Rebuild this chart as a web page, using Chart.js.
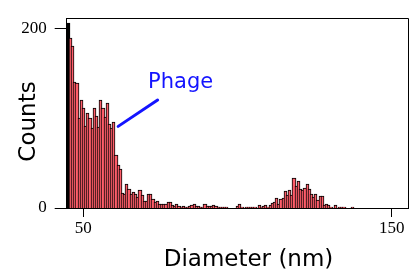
<!DOCTYPE html>
<html>
<head>
<meta charset="utf-8">
<script src="https://cdn.jsdelivr.net/npm/chart.js@4.4.0/dist/chart.umd.min.js"></script>
<style>
  html, body { margin: 0; padding: 0; background: #fff; }
  canvas { display: block; }
</style>
</head>
<body>
<canvas id="c" width="417" height="278"></canvas>
<script>
// ---- Data ----
const binStart = 44.62;      // nm, left edge of first bin
const binWidth = 0.704;      // nm per bin
const counts = [
  206,190,181,140,139,100,120,112,91,106,100,89,112,103,90,120,111,101,117,94,89,96,
  59,48,44,17,16,27,21,16,18,16,12,20,14,8,8,16,16,10,7,8,4,4,5,5,7,7,3,2,5,2,1,2,1,1,2,3,4,2,2,1,1,5,2,2,2,3,2,1,1,
  1,1,1,0,0,0,0,2,5,1,0,1,1,1,1,1,0,
  3,1,2,3,1,3,6,7,11,4,10,11,19,15,20,14,33,24,30,21,20,22,27,21,16,12,16,9,13,13,3,4,3,1,0,3,0,1,1,1,0,0,0,1
];
const xTickValues = [50, 150];
const yTickValues = [0, 200];
const xTitle = 'Diameter (nm)';
const yTitle = 'Counts';
const noteText = 'Phage';
const notePointer = [{x: 61.3, y: 91}, {x: 74.1, y: 120.3}];
const noteAnchor = {x: 71.0, y: 134};

const binCenters = counts.map((_, i) => binStart + binWidth * (i + 0.5));
const points = counts.map((c, i) => ({x: binCenters[i], y: c}));
const fills = counts.map((_, i) => i === 0 ? '#000000' : '#FF5E6A');

// snap bar edges to whole pixels so adjacent outlines are crisp and shared
const snap = {
  id: 'snap',
  beforeDatasetsDraw(chart) {
    const xs = chart.scales.x, ys = chart.scales.y;
    const pitch = xs.getPixelForValue(binStart + binWidth) - xs.getPixelForValue(binStart);
    const meta = chart.getDatasetMeta(0);
    meta.data.forEach((el, i) => {
      const cx = xs.getPixelForValue(points[i].x);
      const l = Math.round(cx - pitch / 2);
      const r = Math.round(cx + pitch / 2) + 1;
      el.x = (l + r) / 2;
      el.width = r - l;
      el.y = Math.round(ys.getPixelForValue(points[i].y));
      el.base = Math.round(ys.getPixelForValue(0));
    });
  }
};

const annot = {
  id: 'annot',
  afterDraw(chart) {
    const {ctx, chartArea: a, scales: {x, y}} = chart;
    ctx.save();
    ctx.strokeStyle = '#000';
    ctx.lineWidth = 1;
    ctx.beginPath();
    ctx.moveTo(a.left, Math.round(a.top) + 0.5);
    ctx.lineTo(Math.round(a.right) - 0.5, Math.round(a.top) + 0.5);
    ctx.lineTo(Math.round(a.right) - 0.5, a.bottom);
    ctx.stroke();
    ctx.strokeStyle = '#1414FF';
    ctx.lineWidth = 3;
    ctx.lineCap = 'round';
    ctx.beginPath();
    ctx.moveTo(x.getPixelForValue(notePointer[0].x), y.getPixelForValue(notePointer[0].y));
    ctx.lineTo(x.getPixelForValue(notePointer[1].x), y.getPixelForValue(notePointer[1].y));
    ctx.stroke();
    ctx.fillStyle = '#1414FF';
    ctx.font = '21px "DejaVu Sans"';
    ctx.textAlign = 'left';
    ctx.textBaseline = 'alphabetic';
    ctx.fillText(noteText, x.getPixelForValue(noteAnchor.x), y.getPixelForValue(noteAnchor.y));
    ctx.fillStyle = '#000';
    ctx.font = '23px "DejaVu Sans"';
    ctx.textAlign = 'center';
    ctx.fillText(xTitle, 248.5, 265.5);
    ctx.translate(35, 121.5);
    ctx.rotate(-Math.PI / 2);
    ctx.fillText(yTitle, 0, 0);
    ctx.restore();
  }
};

new Chart(document.getElementById('c'), {
  type: 'bar',
  data: {
    datasets: [{
      data: points,
      backgroundColor: fills,
      borderColor: '#000',
      borderWidth: 1,
      barPercentage: 1.0,
      categoryPercentage: 1.0
    }]
  },
  options: {
    responsive: false,
    animation: false,
    devicePixelRatio: 1,
    layout: { padding: { top: 11, right: 8.5, left: 0, bottom: 0 } },
    plugins: { legend: { display: false }, tooltip: { enabled: false } },
    scales: {
      x: {
        type: 'linear',
        offset: false,
        min: 44.62,
        max: 155.45,
        afterFit(s) { s.height = 70; },
        afterBuildTicks(s) { s.ticks = xTickValues.map(v => ({value: v})); },
        grid: { offset: false, drawOnChartArea: false, tickLength: 9, color: '#000', lineWidth: 1 },
        border: { display: true, color: '#000', width: 1 },
        ticks: { color: '#000', padding: 1, maxRotation: 0, font: { family: '"Liberation Serif"', size: 17 } }
      },
      y: {
        min: 0,
        max: 211.6,
        afterFit(s) { s.width = 66.7; },
        afterBuildTicks(s) { s.ticks = yTickValues.map(v => ({value: v})); },
        grid: { offset: false, drawOnChartArea: false, tickLength: 12, color: '#000', lineWidth: 1 },
        border: { display: true, color: '#000', width: 1 },
        ticks: { color: '#000', padding: 8, font: { family: '"Liberation Serif"', size: 17 } }
      }
    }
  },
  plugins: [snap, annot]
});
</script>
</body>
</html>
